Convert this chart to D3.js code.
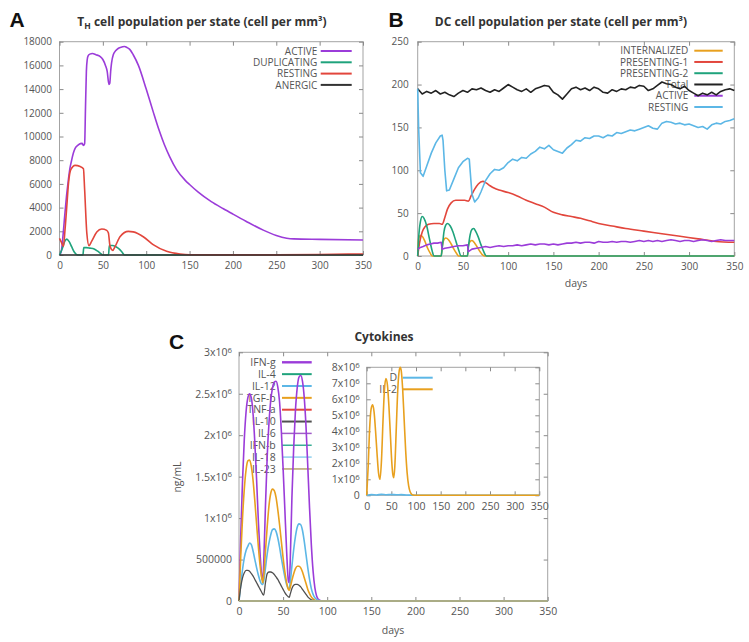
<!DOCTYPE html>
<html><head><meta charset="utf-8">
<script src="https://cdn.jsdelivr.net/npm/d3@7"></script>
<style>body{margin:0;background:#fff}</style>
</head><body><svg id="c" width="749" height="642" style="background:#fff"></svg>
<script>
// ---------- shared ticks ----------
const dayTicks = [0, 50, 100, 150, 200, 250, 300, 350];
const thTicks = [0, 2000, 4000, 6000, 8000, 10000, 12000, 14000, 16000, 18000];
const dcTicks = [0, 50, 100, 150, 200, 250];
const cytoTicks = [0, 0.5, 1, 1.5, 2, 2.5, 3];          // x10^6
const insetTicks = [0, 1, 2, 3, 4, 5, 6, 7, 8];          // x10^6

// ---------- Panel A: TH cells ----------
const thActiveDays = [0,2,4,6,8,10,12,14,16,18,21,24,26,27.5,29,30,31,32,33,35,38,42,47,50,53,55,57,58,59,60,62,65,68,72,75,78,81,85,91,100,108,115,121,127,135,145,150,160,175,189,200,215,235,250,262,270,300,350];
const thActive = [0,300,1600,3300,4900,6200,7300,8000,8600,9000,9250,9400,9420,9250,9400,12500,15500,16500,16800,16950,17000,16900,16750,16500,16000,15500,14400,14500,15500,16200,16900,17250,17450,17550,17600,17500,17350,16900,16000,14000,12100,10500,9300,8300,7200,6300,5950,5300,4500,3900,3450,2850,2100,1650,1420,1360,1320,1270];
const thDupDays = [0,3,6,8.4,11,14,17,21,27,28,31,35,40,44,48,50,56.5,57.5,61,65,69,72,75,350];
const thDup = [0,500,1150,1340,1150,700,250,0,0,620,620,580,500,320,100,0,0,800,800,700,500,250,0,0];
const thRestDays = [0,2,4.6,6,8.4,10.4,13,18,23.8,27.6,29,31.5,34,37,43,48.7,54.5,56.4,58.3,61.4,64,70,79.4,85,97,108,123.5,139,150,200,250,300,350];
const thRest = [1400,1100,730,1800,4100,6070,7200,7560,7470,7280,5500,1850,790,1150,1940,2190,2080,1850,730,390,700,1570,1990,1950,1520,870,310,80,20,10,10,40,90];
const thAnergicDays = [0,350];
const thAnergic = [0,0];

// ---------- Panel B: DC cells ----------
const dcTotalDays = d3.range(0, 351, 5);
const dcTotal = [195,189,192,190,193,189,191,188,186,190,193,191,195,194,196,193,191,194,192,196,200,197,194,192,195,191,195,197,199,198,191,188,183,189,195,197,194,196,193,197,195,191,190,194,192,195,194,197,196,199,198,193,195,199,203,201,200,197,195,198,193,190,187,190,188,191,188,192,194,195,193];
const dcRestDays = [0,1,3,6,10,15,20,25,27,28,30,32,35,40,45,50,55,57,60,63,67,70,75,80,85,90,95,100,105,110,115,120,125,130,135,140,145,150,155,160,165,170,175,180,185,190,195,200,205,210,215,220,225,230,235,240,245,250,255,260,265,270,275,280,285,290,295,300,305,310,315,320,325,330,335,340,345,350];
const dcRest = [195,150,97,93,105,120,132,140,141,135,100,76,77,90,103,110,114,113,72,63,68,75,88,96,101,100,103,109,113,111,115,114,119,122,127,125,129,124,122,120,126,130,135,134,138,137,140,140,138,141,140,144,143,145,147,146,148,150,152,149,148,155,157,156,154,155,153,154,152,150,151,148,153,155,154,157,158,160];
const dcPres1Days = [0,2,5,8,12,18,24,27,30,33,37,42,47,52,56,59,63,67,72,76,80,85,90,100,110,120,130,140,150,160,170,180,190,200,215,230,250,270,290,310,330,350];
const dcPres1 = [0,15,28,34,37,38,38,37,45,55,62,65,65,65,64,70,78,84,87,85,82,79,77,74,70,65,61,57,51,48,46,44,41,38,35,32,29,26,23,20,17,16];
const dcPres2Days = [0,1,3,5,7,10,13,16,18,26,27,29,31,33,36,39,42,45,48,55,56,58,60,62,64,67,70,73,76,78,350];
const dcPres2 = [0,20,40,46,44,35,20,6,0,0,8,28,36,38,35,28,18,8,0,0,10,25,31,32,29,22,13,5,0,0,0];
const dcIntDays = [0,1,3,5,8,11,14,16,26,27,29,31,34,37,40,43,45,55,56,58,60,63,66,69,72,74,350];
const dcInt = [0,20,24,23,17,9,3,0,0,10,19,21,19,14,8,3,0,0,12,17,18,15,10,5,1,0,0];
const dcActiveDays = [0,3,6,10,14,18,22,26,27,30,35,40,45,50,55,56,60,65,70].concat(d3.range(75, 351, 5));
const dcActive = [8,10,11,13,14,15,15,16,8,9,10,11,12,12,13,5,8,9,10,
  11,10,11,12,11,12,12,13,12,13,14,13,14,14,13,14,13,14,15,15,16,15,16,16,15,17,16,16,17,16,17,17,16,17,18,17,18,17,18,17,18,19,18,17,18,18,17,18,19,18,17,18,19,18,18,18];

// ---------- Panel C: cytokines (values in 10^6 ng/mL) ----------
const cytoDays = [0,2,4,6,8,10,12,14,16,18,20,22,24,26,27,28,30,32,34,36,38,40,42,44,46,48,50,52,54,56,57,58,60,62,64,66,68,70,72,74,76,78,80,82,84,86,88,90,92,95,100,350];
const ifng = [0,0.8,1.45,1.95,2.28,2.45,2.5,2.45,2.25,1.9,1.45,0.95,0.55,0.28,0.25,0.45,1.15,1.75,2.15,2.42,2.57,2.64,2.65,2.58,2.4,2.05,1.6,1.1,0.6,0.24,0.22,0.45,1.25,1.85,2.3,2.57,2.7,2.72,2.65,2.45,2.1,1.62,1.12,0.68,0.36,0.16,0.06,0.02,0.005,0,0,0];
const tgfb = [0,0.55,1.0,1.35,1.58,1.69,1.7,1.62,1.45,1.2,0.92,0.65,0.42,0.26,0.22,0.3,0.6,0.9,1.15,1.3,1.35,1.33,1.25,1.1,0.92,0.72,0.52,0.35,0.22,0.14,0.13,0.16,0.25,0.33,0.39,0.42,0.42,0.4,0.35,0.28,0.21,0.14,0.09,0.05,0.025,0.01,0.003,0,0,0,0,0];
const il12 = [0,0.2,0.38,0.52,0.61,0.66,0.7,0.68,0.6,0.5,0.4,0.31,0.24,0.2,0.2,0.24,0.4,0.57,0.7,0.8,0.86,0.87,0.84,0.76,0.65,0.52,0.4,0.29,0.2,0.15,0.15,0.22,0.42,0.62,0.78,0.89,0.93,0.92,0.85,0.72,0.56,0.4,0.26,0.15,0.08,0.04,0.02,0.008,0.003,0,0,0];
const il10 = [0,0.17,0.28,0.34,0.37,0.37,0.36,0.33,0.3,0.26,0.22,0.18,0.14,0.1,0.08,0.07,0.22,0.33,0.35,0.35,0.34,0.32,0.29,0.26,0.22,0.18,0.14,0.1,0.07,0.05,0.045,0.08,0.15,0.19,0.2,0.2,0.19,0.17,0.14,0.11,0.08,0.05,0.03,0.015,0.007,0.002,0,0,0,0,0,0];
const flatDays = [0, 350];
const flatZero = [0, 0];
const il2Days = [0,3,6,9,12,15,18,21,24,27,30,33,36,39,42,45,48,51,53,55,57,60,63,66,68,70,73,76,79,82,85,88,91,94,98,350];
const il2 = [0,1.8,4.2,5.4,5.65,5.2,4.0,2.6,1.4,1.0,2.2,4.6,6.6,7.3,6.9,5.6,3.8,2.0,1.3,1.1,1.8,4.2,6.6,7.8,8.0,7.8,6.6,4.7,2.8,1.4,0.6,0.22,0.07,0.02,0,0];
const dDays = [0,10,20,30,40,50,60,70,80,90,100,350];
const dVals = [0,0.04,0.02,0.06,0.03,0.05,0.03,0.04,0.02,0.01,0,0];

// ---------- colours ----------
const PURPLE = "#9b3cd9", GREEN = "#1fa37c", RED = "#e2463c", BLACK = "#222",
      BLUE = "#5cb7e6", ORANGE = "#e8a01e", GREY = "#555";

const svg = d3.select("#c");
const FONT = "'Open Sans', 'DejaVu Sans', sans-serif";

function sup6(sel, m) { // "m x10^6"
  sel.text(null);
  sel.append("tspan").text(m + "x10");
  sel.append("tspan").attr("dy", "-0.45em").attr("font-size", "0.75em").text("6");
}

function drawPanel(p) {
  const g = svg.append("g");
  const x = d3.scaleLinear().domain([0, 350]).range([p.l, p.r]);
  const y = d3.scaleLinear().domain(p.yDomain).range([p.b, p.t]);
  g.append("rect").attr("x", p.l).attr("y", p.t).attr("width", p.r - p.l).attr("height", p.b - p.t)
    .attr("fill", "#fff").attr("stroke", "#a3a3a3").attr("stroke-width", 1);
  const fs = p.fs || 10;
  const style = a => {
    a.attr("font-family", FONT).attr("font-size", fs);
    a.select(".domain").remove();
    a.selectAll(".tick line").attr("stroke", "#8a8a8a");
    a.selectAll(".tick text").attr("fill", "#555");
  };
  g.append("g").attr("transform", `translate(0,${p.b})`)
    .call(d3.axisBottom(x).tickValues(dayTicks).tickSize(-4).tickPadding(p.xPad || 7).tickFormat(d3.format("d"))).call(style);
  g.append("g").attr("transform", `translate(0,${p.t})`)
    .call(d3.axisTop(x).tickValues(dayTicks).tickSize(-4).tickFormat("")).call(style);
  const yl = g.append("g").attr("transform", `translate(${p.l},0)`)
    .call(d3.axisLeft(y).tickValues(p.yTicks).tickSize(-4).tickPadding(p.yPad || 8).tickFormat(p.yFmt || d3.format("d"))).call(style);
  if (p.sup) yl.selectAll(".tick text").each(function (d) {
    const s = d3.select(this);
    if (d === 0) s.text("0"); else if (d === 0.5) s.text("500000"); else sup6(s, d);
  });
  g.append("g").attr("transform", `translate(${p.r},0)`)
    .call(d3.axisRight(y).tickValues(p.yTicks).tickSize(-4).tickFormat("")).call(style);

  // legend (drawn before curves so curves pass over it)
  if (p.legend) {
    const L = p.legend;
    p.series.forEach((s, i) => {
      const yy = L.y0 + i * L.dy;
      g.append("text").attr("x", L.tx).attr("y", yy).attr("dy", "0.36em").attr("text-anchor", "end")
        .attr("font-family", FONT).attr("font-size", L.fs || 10).attr("fill", "#555").text(s.name);
      g.append("line").attr("x1", L.x1).attr("x2", L.x2).attr("y1", yy).attr("y2", yy)
        .attr("stroke", s.color).attr("stroke-width", s.lw || 2);
    });
  }
  p.series.forEach(s => {
    const line = d3.line().x((d, i) => x(s.days[i])).y(d => y(d))
      .curve(s.noisy ? d3.curveLinear : d3.curveMonotoneX);
    g.append("path").datum(s.vals).attr("d", line).attr("fill", "none")
      .attr("stroke", s.color).attr("stroke-width", s.w || 1.6).attr("stroke-linejoin", "round");
  });
  return g;
}

// ---------- Panel A ----------
drawPanel({
  l: 59.5, r: 363, t: 41.7, b: 255, yDomain: [0, 18000], yTicks: thTicks, yPad: 7.5,
  legend: { y0: 51, dy: 11.3, tx: 317.3, x1: 320.7, x2: 351.7 },
  series: [
    { name: "ACTIVE", days: thActiveDays, vals: thActive, color: PURPLE },
    { name: "DUPLICATING", days: thDupDays, vals: thDup, color: GREEN },
    { name: "RESTING", days: thRestDays, vals: thRest, color: RED },
    { name: "ANERGIC", days: thAnergicDays, vals: thAnergic, color: "#333" }
  ]
});

// ---------- Panel B ----------
drawPanel({
  l: 417.7, r: 734.3, t: 41.7, b: 256, yDomain: [0, 250], yTicks: dcTicks, yPad: 9,
  legend: { y0: 50.7, dy: 11.26, tx: 688.3, x1: 694.3, x2: 722.7 },
  series: [
    { name: "INTERNALIZED", days: dcIntDays, vals: dcInt, color: ORANGE },
    { name: "PRESENTING-1", days: dcPres1Days, vals: dcPres1, color: RED },
    { name: "PRESENTING-2", days: dcPres2Days, vals: dcPres2, color: GREEN },
    { name: "Total", days: dcTotalDays, vals: dcTotal, color: BLACK, noisy: true },
    { name: "ACTIVE", days: dcActiveDays, vals: dcActive, color: PURPLE, noisy: true },
    { name: "RESTING", days: dcRestDays, vals: dcRest, color: BLUE, noisy: true }
  ]
});

// ---------- Panel C ----------
drawPanel({
  l: 239, r: 547.7, t: 352.3, b: 601, yDomain: [0, 3], yTicks: cytoTicks, sup: true, yPad: 7, fs: 10.5,
  legend: { y0: 362.3, dy: 11.85, tx: 275.7, x1: 282, x2: 311.7, fs: 10.5 },
  series: [
    { name: "IFN-g", days: cytoDays, vals: ifng, color: PURPLE, lw: 2.4 },
    { name: "IL-4", days: flatDays, vals: flatZero, color: GREEN },
    { name: "IL-12", days: cytoDays, vals: il12, color: BLUE },
    { name: "TGF-b", days: cytoDays, vals: tgfb, color: ORANGE },
    { name: "TNF-a", days: flatDays, vals: flatZero, color: RED },
    { name: "IL-10", days: cytoDays, vals: il10, color: "#505050", w: 1.3 },
    { name: "IL-6", days: flatDays, vals: flatZero, color: "#a05cc8", lw: 1.5 },
    { name: "IFN-b", days: flatDays, vals: flatZero, color: "#3aae96", lw: 1.5 },
    { name: "IL-18", days: flatDays, vals: flatZero, color: "#8fd0ee", lw: 1.5 },
    { name: "IL-23", days: flatDays, vals: flatZero, color: "#b8a46a", lw: 1.5 }
  ]
});

// inset
drawPanel({
  l: 366.7, r: 539.3, t: 367.3, b: 495.3, yDomain: [0, 8], yTicks: insetTicks, sup: true, yPad: 7, fs: 10.5, xPad: 7,
  legend: { y0: 377.7, dy: 11.6, tx: 397, x1: 402.7, x2: 432.7, fs: 10.5 },
  series: [
    { name: "D", days: dDays, vals: dVals, color: BLUE },
    { name: "IL-2", days: il2Days, vals: il2, color: ORANGE }
  ]
});

// ---------- titles, labels ----------
const title = (x, y, fs) => svg.append("text").attr("x", x).attr("y", y).attr("text-anchor", "middle")
  .attr("font-family", FONT).attr("font-weight", "bold").attr("font-size", fs).attr("fill", "#333");
const tA = title(202, 25.5, 12);
tA.append("tspan").text("T");
tA.append("tspan").attr("font-size", 8.5).attr("dy", 3).text("H");
tA.append("tspan").attr("dy", -3).text(" cell population per state (cell per mm³)");
title(561, 25.5, 12).text("DC cell population per state (cell per mm³)");
title(384, 341, 12).text("Cytokines");

const letter = (x, y, t) => svg.append("text").attr("x", x).attr("y", y).attr("font-family", "'Liberation Sans', Arial, sans-serif")
  .attr("font-weight", "bold").attr("font-size", 21).attr("fill", "#111").text(t);
letter(9.5, 26.7, "A");
letter(388.5, 26.7, "B");
letter(169, 348.5, "C");

const axLabel = (x, y, t, rot) => svg.append("text").attr("x", x).attr("y", y).attr("text-anchor", "middle")
  .attr("font-family", FONT).attr("font-size", 10.5).attr("fill", "#555")
  .attr("transform", rot ? `rotate(-90,${x},${y})` : null).text(t);
axLabel(576, 287, "days");
axLabel(393, 634, "days");
axLabel(180.5, 477, "ng/mL", true);
</script></body></html>
